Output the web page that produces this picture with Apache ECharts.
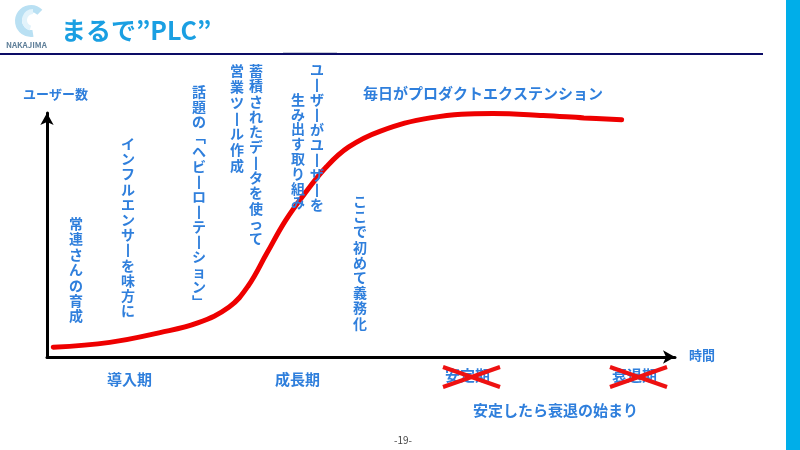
<!DOCTYPE html>
<html>
<head>
<meta charset="utf-8">
<title>まるで”PLC”</title>
<script src="https://cdn.jsdelivr.net/npm/echarts@6/dist/echarts.min.js"></script>
<style>
    html, body { margin: 0; padding: 0; background: #fff; }
    #main { width: 800px; height: 450px; }
</style>
</head>
<body>
<div id="main"></div>
<script>
// PLC curve (time 0-100, users 0-100)
var timeValues = [1, 10, 18, 24, 29, 32, 35, 38, 41.5, 44.5, 48, 53, 61, 71, 79, 85.5, 91.5];
var userValues = [4, 6, 10, 14, 20.5, 29, 42.5, 56, 68.5, 78, 86, 92.5, 98, 99.8, 99, 98, 97.2];
var stageLabels = ['導入期', '成長期', '安定期', '衰退期'];

var blue = '#2f7fdc';
var jp = '"Noto Sans CJK JP", "Noto Sans", sans-serif';

// turn a string into a column of characters (vertical writing)
function tate(s) {
    var vert = { 'ー': '丨', '「': '﹁', '」': '﹂' };
    return s.split('').map(function (c) { return vert[c] || c; }).join('\n');
}

function vtext(str, x, y, lh) {
    return {
        type: 'text', x: x, y: y, z: 10,
        style: {
            text: tate(str), fill: blue, fontSize: 14, fontWeight: 'bold',
            fontFamily: jp, align: 'center', verticalAlign: 'top', lineHeight: lh
        }
    };
}

function htext(str, x, y, size, color, weight, align) {
    return {
        type: 'text', x: x, y: y, z: 10,
        style: {
            text: str, fill: color || blue, fontSize: size, fontWeight: weight || 'bold',
            fontFamily: jp, align: align || 'left', verticalAlign: 'middle'
        }
    };
}

function cross(x1, x2, y1, y2) {
    return [
        { type: 'line', z: 11, shape: { x1: x1, y1: y1, x2: x2, y2: y2 }, style: { stroke: '#ee1111', lineWidth: 4 } },
        { type: 'line', z: 11, shape: { x1: x1, y1: y2, x2: x2, y2: y1 }, style: { stroke: '#ee1111', lineWidth: 4 } }
    ];
}

var curve = timeValues.map(function (t, i) { return [t, userValues[i]]; });

var chart = echarts.init(document.getElementById('main'));

var graphics = [
    // right blue band and header rule
    { type: 'rect', shape: { x: 786, y: 0, width: 14, height: 450 }, style: { fill: '#00aee9' } },
    { type: 'rect', shape: { x: 0, y: 53, width: 763, height: 2 }, style: { fill: '#0c0c66' } },
    { type: 'rect', shape: { x: 283, y: 52, width: 54, height: 1 }, style: { fill: '#c8ccd8' } },
    // logo
    { type: 'sector', shape: { cx: 31, cy: 21, r: 16, r0: 9, startAngle: Math.PI * 0.45, endAngle: Math.PI * 1.75 },
      style: { fill: '#b9e0f3' } },
    { type: 'sector', shape: { cx: 33, cy: 20, r: 11, r0: 6, startAngle: Math.PI * 0.6, endAngle: Math.PI * 1.5 },
      style: { fill: '#e2f3fb' } },
    htext('NAKAJIMA', 6, 45, 8, '#5f7f99', 'bold'),
    // title
    htext('まるで”PLC”', 61, 30, 25, '#1a9fe2', 'bold'),
    // axis titles
    htext('ユーザー数', 23, 94, 13),
    htext('時間', 689, 355, 13),
    // vertical notes
    vtext('常連さんの育成', 76, 216, 15.4),
    vtext('インフルエンサーを味方に', 128, 136, 15.2),
    vtext('話題の「ヘビーローテーション」', 199, 84, 15),
    vtext('蓄積されたデータを使って', 256, 63, 15.3),
    vtext('営業ツール作成', 237, 63, 15.8),
    vtext('ユーザーがユーザーを', 317, 62, 15),
    vtext('生み出す取り組み', 298, 92, 14.8),
    vtext('ここで初めて義務化', 360, 194, 15.2),
    htext('毎日がプロダクトエクステンション', 363, 93, 15),
    // stages
    htext(stageLabels[0], 107, 379, 15),
    htext(stageLabels[1], 275, 379, 15),
    htext(stageLabels[2], 445, 375, 15),
    htext(stageLabels[3], 612, 375, 15),
    htext('安定したら衰退の始まり', 473, 410, 15),
    htext('-19-', 403, 440, 10, '#444', 'normal', 'center')
].concat(cross(443, 500, 367, 387)).concat(cross(610, 667, 367, 387));

var option = {
    animation: false,
    backgroundColor: '#fff',
    grid: { left: 47, right: 125, top: 113, bottom: 93 },
    xAxis: {
        type: 'value', min: 0, max: 100,
        axisLine: { show: true, symbol: ['none', 'arrow'], symbolSize: [10, 12], lineStyle: { color: '#000', width: 3 } },
        axisTick: { show: false }, axisLabel: { show: false }, splitLine: { show: false }
    },
    yAxis: {
        type: 'value', min: 0, max: 100,
        axisLine: { show: true, symbol: ['none', 'arrow'], symbolSize: [10, 12], lineStyle: { color: '#000', width: 3 } },
        axisTick: { show: false }, axisLabel: { show: false }, splitLine: { show: false }
    },
    series: [{
        type: 'line',
        data: curve,
        smooth: 0.4,
        showSymbol: false,
        clip: false,
        lineStyle: { color: '#ee0000', width: 5, cap: 'round' }
    }],
    graphic: graphics
};

chart.setOption(option);
</script>
</body>
</html>
